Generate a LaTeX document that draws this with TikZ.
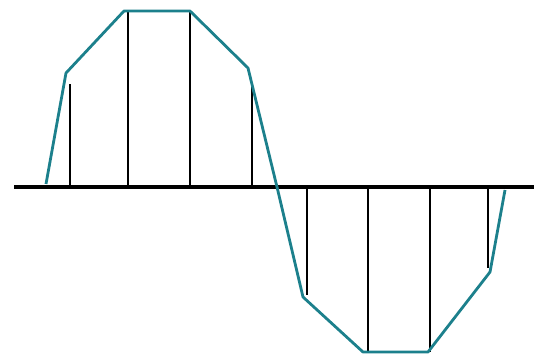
\documentclass[tikz,border=0pt]{standalone}
\definecolor{wave}{RGB}{28,128,140}
\begin{document}
\begin{tikzpicture}[x=1pt,y=-1pt,
  axisline/.style={line width=3.5pt,black},
  sampleline/.style={line width=1.6pt,black},
  waveline/.style={line width=2.8pt,wave,line join=round}]
\useasboundingbox (0,0) rectangle (534,357);
% samples
\coordinate (s1) at (70,84);  \coordinate (b1) at (70,187);
\coordinate (s2) at (128,11); \coordinate (b2) at (128,187);
\coordinate (s3) at (190,11); \coordinate (b3) at (190,187);
\coordinate (s4) at (252,85); \coordinate (b4) at (252,187);
\coordinate (s5) at (307,295);\coordinate (b5) at (307,187);
\coordinate (s6) at (368,352);\coordinate (b6) at (368,187);
\coordinate (s7) at (430,352);\coordinate (b7) at (430,187);
\coordinate (s8) at (488,268);\coordinate (b8) at (488,187);
\foreach \i in {1,...,8} \draw[sampleline] (b\i) -- (s\i);
% axis
\coordinate (a0) at (14,187); \coordinate (a1) at (534,187);
\draw[axisline] (a0) -- (a1);
% wave
\coordinate (w0) at (46,184);
\coordinate (w1) at (66,73);
\coordinate (w2) at (124,11);
\coordinate (w3) at (190,11);
\coordinate (w4) at (248,68);
\coordinate (w5) at (277,187);
\coordinate (w6) at (303,297);
\coordinate (w7) at (363,352);
\coordinate (w8) at (428,352);
\coordinate (w9) at (490,272);
\coordinate (w10) at (505,190);
\draw[waveline] (w0) -- (w1) -- (w2) -- (w3) -- (w4) -- (w5) -- (w6) -- (w7) -- (w8) -- (w9) -- (w10);
\end{tikzpicture}
\end{document}
